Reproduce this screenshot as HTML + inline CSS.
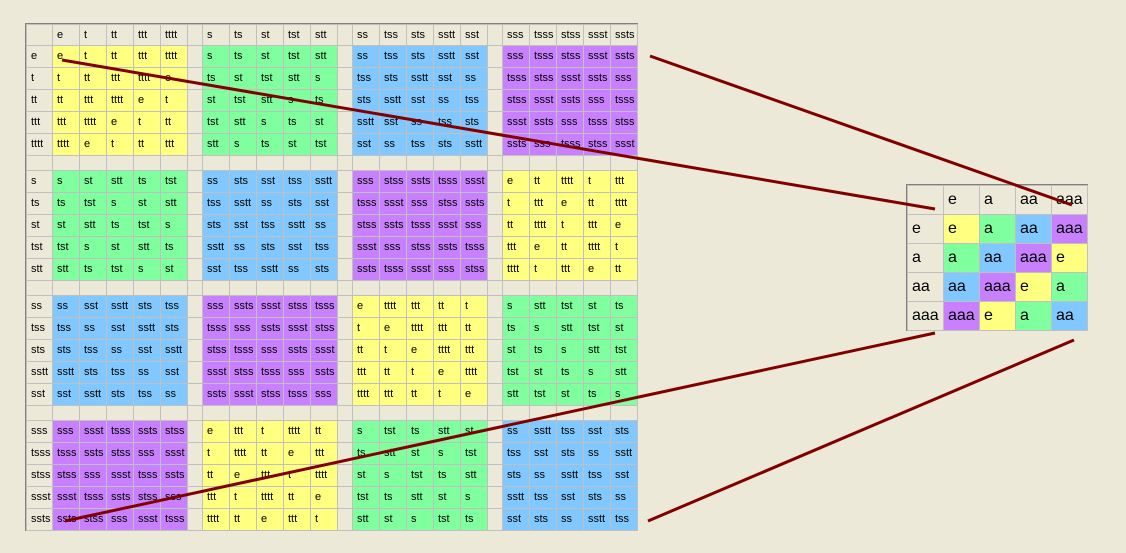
<!DOCTYPE html>
<html><head><meta charset="utf-8"><style>
html,body{margin:0;padding:0;width:1126px;height:553px;background:#ece9d8;overflow:hidden;font-family:"Liberation Sans",sans-serif;}
#big{position:absolute;left:25px;top:23px;display:grid;grid-template-columns:25px repeat(5,26px) 14px repeat(5,26px) 14px repeat(5,26px) 14px repeat(5,26px);grid-template-rows:20px repeat(5,21px) 14px repeat(5,21px) 14px repeat(5,21px) 14px repeat(5,21px);gap:1px;padding:1px;background:#c0c0c0;border-top:1px solid #808080;border-left:1px solid #808080;font-size:11px;}
#big>*{display:block;padding-left:4px;line-height:21px;white-space:nowrap;overflow:hidden;color:#000;}
h,z{background:#ece9d8;}
y{background:#ffff80;} g{background:#80ff9e;} c{background:#80c8ff;} v{background:#c880ff;}
#sm{position:absolute;left:906px;top:184px;display:grid;grid-template-columns:repeat(5,35px);grid-template-rows:repeat(5,28px);gap:1px;padding:1px;background:#c0c0c0;border-top:1px solid #808080;border-left:1px solid #808080;font-size:16px;}
#sm>*{display:block;padding-left:4px;line-height:28px;white-space:nowrap;}
svg{position:absolute;left:0;top:0;}
</style></head><body>
<div id="big">
<h></h><h>e</h><h>t</h><h>tt</h><h>ttt</h><h>tttt</h><z></z><h>s</h><h>ts</h><h>st</h><h>tst</h><h>stt</h><z></z><h>ss</h><h>tss</h><h>sts</h><h>sstt</h><h>sst</h><z></z><h>sss</h><h>tsss</h><h>stss</h><h>ssst</h><h>ssts</h>

<h>e</h><y>e</y><y>t</y><y>tt</y><y>ttt</y><y>tttt</y><z></z><g>s</g><g>ts</g><g>st</g><g>tst</g><g>stt</g><z></z><c>ss</c><c>tss</c><c>sts</c><c>sstt</c><c>sst</c><z></z><v>sss</v><v>tsss</v><v>stss</v><v>ssst</v><v>ssts</v>
<h>t</h><y>t</y><y>tt</y><y>ttt</y><y>tttt</y><y>e</y><z></z><g>ts</g><g>st</g><g>tst</g><g>stt</g><g>s</g><z></z><c>tss</c><c>sts</c><c>sstt</c><c>sst</c><c>ss</c><z></z><v>tsss</v><v>stss</v><v>ssst</v><v>ssts</v><v>sss</v>
<h>tt</h><y>tt</y><y>ttt</y><y>tttt</y><y>e</y><y>t</y><z></z><g>st</g><g>tst</g><g>stt</g><g>s</g><g>ts</g><z></z><c>sts</c><c>sstt</c><c>sst</c><c>ss</c><c>tss</c><z></z><v>stss</v><v>ssst</v><v>ssts</v><v>sss</v><v>tsss</v>
<h>ttt</h><y>ttt</y><y>tttt</y><y>e</y><y>t</y><y>tt</y><z></z><g>tst</g><g>stt</g><g>s</g><g>ts</g><g>st</g><z></z><c>sstt</c><c>sst</c><c>ss</c><c>tss</c><c>sts</c><z></z><v>ssst</v><v>ssts</v><v>sss</v><v>tsss</v><v>stss</v>
<h>tttt</h><y>tttt</y><y>e</y><y>t</y><y>tt</y><y>ttt</y><z></z><g>stt</g><g>s</g><g>ts</g><g>st</g><g>tst</g><z></z><c>sst</c><c>ss</c><c>tss</c><c>sts</c><c>sstt</c><z></z><v>ssts</v><v>sss</v><v>tsss</v><v>stss</v><v>ssst</v>

<z></z><z></z><z></z><z></z><z></z><z></z><z></z><z></z><z></z><z></z><z></z><z></z><z></z><z></z><z></z><z></z><z></z><z></z><z></z><z></z><z></z><z></z><z></z><z></z>

<h>s</h><g>s</g><g>st</g><g>stt</g><g>ts</g><g>tst</g><z></z><c>ss</c><c>sts</c><c>sst</c><c>tss</c><c>sstt</c><z></z><v>sss</v><v>stss</v><v>ssts</v><v>tsss</v><v>ssst</v><z></z><y>e</y><y>tt</y><y>tttt</y><y>t</y><y>ttt</y>
<h>ts</h><g>ts</g><g>tst</g><g>s</g><g>st</g><g>stt</g><z></z><c>tss</c><c>sstt</c><c>ss</c><c>sts</c><c>sst</c><z></z><v>tsss</v><v>ssst</v><v>sss</v><v>stss</v><v>ssts</v><z></z><y>t</y><y>ttt</y><y>e</y><y>tt</y><y>tttt</y>
<h>st</h><g>st</g><g>stt</g><g>ts</g><g>tst</g><g>s</g><z></z><c>sts</c><c>sst</c><c>tss</c><c>sstt</c><c>ss</c><z></z><v>stss</v><v>ssts</v><v>tsss</v><v>ssst</v><v>sss</v><z></z><y>tt</y><y>tttt</y><y>t</y><y>ttt</y><y>e</y>
<h>tst</h><g>tst</g><g>s</g><g>st</g><g>stt</g><g>ts</g><z></z><c>sstt</c><c>ss</c><c>sts</c><c>sst</c><c>tss</c><z></z><v>ssst</v><v>sss</v><v>stss</v><v>ssts</v><v>tsss</v><z></z><y>ttt</y><y>e</y><y>tt</y><y>tttt</y><y>t</y>
<h>stt</h><g>stt</g><g>ts</g><g>tst</g><g>s</g><g>st</g><z></z><c>sst</c><c>tss</c><c>sstt</c><c>ss</c><c>sts</c><z></z><v>ssts</v><v>tsss</v><v>ssst</v><v>sss</v><v>stss</v><z></z><y>tttt</y><y>t</y><y>ttt</y><y>e</y><y>tt</y>

<z></z><z></z><z></z><z></z><z></z><z></z><z></z><z></z><z></z><z></z><z></z><z></z><z></z><z></z><z></z><z></z><z></z><z></z><z></z><z></z><z></z><z></z><z></z><z></z>

<h>ss</h><c>ss</c><c>sst</c><c>sstt</c><c>sts</c><c>tss</c><z></z><v>sss</v><v>ssts</v><v>ssst</v><v>stss</v><v>tsss</v><z></z><y>e</y><y>tttt</y><y>ttt</y><y>tt</y><y>t</y><z></z><g>s</g><g>stt</g><g>tst</g><g>st</g><g>ts</g>
<h>tss</h><c>tss</c><c>ss</c><c>sst</c><c>sstt</c><c>sts</c><z></z><v>tsss</v><v>sss</v><v>ssts</v><v>ssst</v><v>stss</v><z></z><y>t</y><y>e</y><y>tttt</y><y>ttt</y><y>tt</y><z></z><g>ts</g><g>s</g><g>stt</g><g>tst</g><g>st</g>
<h>sts</h><c>sts</c><c>tss</c><c>ss</c><c>sst</c><c>sstt</c><z></z><v>stss</v><v>tsss</v><v>sss</v><v>ssts</v><v>ssst</v><z></z><y>tt</y><y>t</y><y>e</y><y>tttt</y><y>ttt</y><z></z><g>st</g><g>ts</g><g>s</g><g>stt</g><g>tst</g>
<h>sstt</h><c>sstt</c><c>sts</c><c>tss</c><c>ss</c><c>sst</c><z></z><v>ssst</v><v>stss</v><v>tsss</v><v>sss</v><v>ssts</v><z></z><y>ttt</y><y>tt</y><y>t</y><y>e</y><y>tttt</y><z></z><g>tst</g><g>st</g><g>ts</g><g>s</g><g>stt</g>
<h>sst</h><c>sst</c><c>sstt</c><c>sts</c><c>tss</c><c>ss</c><z></z><v>ssts</v><v>ssst</v><v>stss</v><v>tsss</v><v>sss</v><z></z><y>tttt</y><y>ttt</y><y>tt</y><y>t</y><y>e</y><z></z><g>stt</g><g>tst</g><g>st</g><g>ts</g><g>s</g>

<z></z><z></z><z></z><z></z><z></z><z></z><z></z><z></z><z></z><z></z><z></z><z></z><z></z><z></z><z></z><z></z><z></z><z></z><z></z><z></z><z></z><z></z><z></z><z></z>

<h>sss</h><v>sss</v><v>ssst</v><v>tsss</v><v>ssts</v><v>stss</v><z></z><y>e</y><y>ttt</y><y>t</y><y>tttt</y><y>tt</y><z></z><g>s</g><g>tst</g><g>ts</g><g>stt</g><g>st</g><z></z><c>ss</c><c>sstt</c><c>tss</c><c>sst</c><c>sts</c>
<h>tsss</h><v>tsss</v><v>ssts</v><v>stss</v><v>sss</v><v>ssst</v><z></z><y>t</y><y>tttt</y><y>tt</y><y>e</y><y>ttt</y><z></z><g>ts</g><g>stt</g><g>st</g><g>s</g><g>tst</g><z></z><c>tss</c><c>sst</c><c>sts</c><c>ss</c><c>sstt</c>
<h>stss</h><v>stss</v><v>sss</v><v>ssst</v><v>tsss</v><v>ssts</v><z></z><y>tt</y><y>e</y><y>ttt</y><y>t</y><y>tttt</y><z></z><g>st</g><g>s</g><g>tst</g><g>ts</g><g>stt</g><z></z><c>sts</c><c>ss</c><c>sstt</c><c>tss</c><c>sst</c>
<h>ssst</h><v>ssst</v><v>tsss</v><v>ssts</v><v>stss</v><v>sss</v><z></z><y>ttt</y><y>t</y><y>tttt</y><y>tt</y><y>e</y><z></z><g>tst</g><g>ts</g><g>stt</g><g>st</g><g>s</g><z></z><c>sstt</c><c>tss</c><c>sst</c><c>sts</c><c>ss</c>
<h>ssts</h><v>ssts</v><v>stss</v><v>sss</v><v>ssst</v><v>tsss</v><z></z><y>tttt</y><y>tt</y><y>e</y><y>ttt</y><y>t</y><z></z><g>stt</g><g>st</g><g>s</g><g>tst</g><g>ts</g><z></z><c>sst</c><c>sts</c><c>ss</c><c>sstt</c><c>tss</c>
</div>

<div id="sm">
<h></h><h>e</h><h>a</h><h>aa</h><h>aaa</h>
<h>e</h><y>e</y><g>a</g><c>aa</c><v>aaa</v>
<h>a</h><g>a</g><c>aa</c><v>aaa</v><y>e</y>
<h>aa</h><c>aa</c><v>aaa</v><y>e</y><g>a</g>
<h>aaa</h><v>aaa</v><y>e</y><g>a</g><c>aa</c>
</div>

<svg width="1126" height="553" viewBox="0 0 1126 553">
<g stroke="#800000" stroke-width="3" fill="none">
<line x1="62" y1="60" x2="935" y2="209"/>
<line x1="650" y1="56" x2="1072" y2="205"/>
<line x1="65" y1="521" x2="935" y2="333"/>
<line x1="648" y1="521" x2="1074" y2="340"/>
</g>
</svg>
</body></html>
